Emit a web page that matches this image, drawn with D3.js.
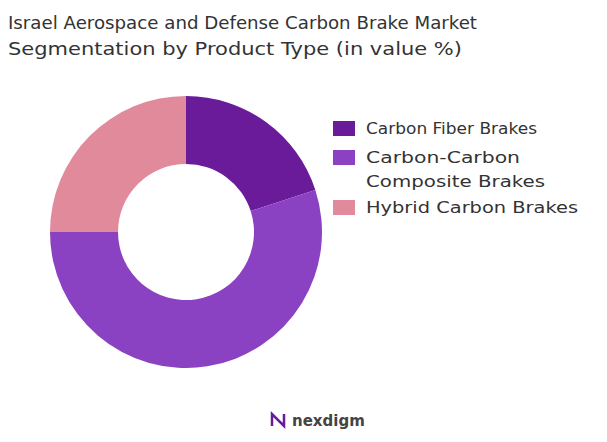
<!DOCTYPE html>
<html><head><meta charset="utf-8">
<script src="https://cdn.jsdelivr.net/npm/d3@7"></script>
<style>body{margin:0;background:#fff;font-family:"DejaVu Sans",sans-serif}</style>
</head><body><svg id="c" width="607" height="442"></svg>
<script>
const categories = ["Carbon Fiber Brakes", "Carbon-Carbon Composite Brakes", "Hybrid Carbon Brakes"];
const values = [20, 55, 25];
const legendLines = [["Carbon Fiber Brakes"], ["Carbon-Carbon", "Composite Brakes"], ["Hybrid Carbon Brakes"]];
const legendWidths = [[171], [154, 179], [212]];
const colors = ["#6a1b9a", "#8b42c2", "#e08a9c"];

const svg = d3.select("#c");
svg.append("text").attr("x", 8).attr("y", 29).attr("font-size", 17).attr("fill", "#333")
  .attr("textLength", 469).attr("lengthAdjust", "spacingAndGlyphs").text("Israel Aerospace and Defense Carbon Brake Market");
svg.append("text").attr("x", 8).attr("y", 55).attr("font-size", 17).attr("fill", "#333")
  .attr("textLength", 454).attr("lengthAdjust", "spacingAndGlyphs").text("Segmentation by Product Type (in value %)");

const pie = d3.pie().sort(null).value(d => d);
const arc = d3.arc().innerRadius(68).outerRadius(136);
const g = svg.append("g").attr("transform", "translate(186,232)");
g.selectAll("path").data(pie(values)).join("path").attr("d", arc).attr("fill", (d, i) => colors[i]);

const lg = svg.append("g");
const ys = [128, 157, 207];
legendLines.forEach((lines, i) => {
  lg.append("rect").attr("x", 333).attr("y", ys[i] - 7).attr("width", 22).attr("height", 15).attr("fill", colors[i]);
  lines.forEach((t, j) => lg.append("text").attr("x", 366).attr("y", ys[i] + 6 + j * 24).attr("font-size", 16.5).attr("fill", "#333")
    .attr("textLength", legendWidths[i][j]).attr("lengthAdjust", "spacingAndGlyphs").text(t));
});

const logo = svg.append("g");
logo.append("path").attr("d", "M272 426 L272 414 L284 426 L284 414").attr("fill", "none").attr("stroke", "#6a1b9a").attr("stroke-width", 2.5);
logo.append("text").attr("x", 292).attr("y", 426).attr("font-size", 15).attr("fill", "#444").attr("font-weight", 600).text("nexdigm");
</script></body></html>
